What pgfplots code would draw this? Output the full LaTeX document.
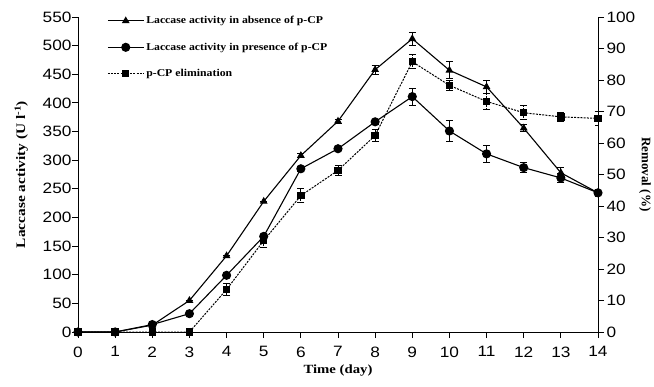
\documentclass[border=0pt]{standalone}
\usepackage{pgfplots}
\pgfplotsset{compat=1.18}
\usepackage{fontspec}
\setmainfont{Liberation Serif}
\newfontfamily\serifwide[FakeStretch=1.18]{Liberation Serif}
\newfontfamily\serifleg[FakeStretch=1.12]{Liberation Serif}
\newfontfamily\arialfont[FakeStretch=1.15]{Liberation Sans}
\begin{document}
\begin{tikzpicture}[x=1pt,y=1pt]
\pgfplotsset{
  common/.style={
    scale only axis, width=520pt, height=315pt,
    at={(0,0)}, anchor=south west,
    xmin=0, xmax=14,
    tick align=outside, major tick length=6pt,
    tick style={line width=0.9pt, black},
    axis line style={line width=0.9pt},
    /pgf/number format/assume math mode=true,
    ticklabel style={font=\arialfont\fontsize{15}{15}\selectfont},
  },
  errb/.style={error bars/.cd, y dir=both, y explicit,
    error bar style={line width=0.8pt},
    error mark options={rotate=90, mark size=3.5pt, line width=0.8pt}},
}
\begin{axis}[common,
  axis x line*=bottom, axis y line*=left,
  ymin=0, ymax=550, ytick={0,50,...,550},
  xtick={0,1,...,14},
  xticklabel style={yshift=-5pt},
  yticklabel style={xshift=3pt},
  xlabel={Time (day)}, xlabel style={font=\serifwide\bfseries\fontsize{12.5}{13}\selectfont, yshift=-1pt},
  ylabel={Laccase activity (U l\textsuperscript{-1})},
  ylabel style={font=\serifwide\bfseries\fontsize{13}{13}\selectfont, yshift=8pt},
]
\addplot[black, line width=1.1pt, mark=triangle*, mark size=3.4pt, errb]
  coordinates {
  (0,0) +- (0,0) (1,0) +- (0,0) (2,12) +- (0,0) (3,55) +- (0,0)
  (4,133) +- (0,0) (5,228) +- (0,0) (6,308) +- (0,3) (7,368) +- (0,4)
  (8,458) +- (0,8) (9,512) +- (0,11) (10,457) +- (0,15) (11,428) +- (0,12)
  (12,356) +- (0,6) (13,278) +- (0,10) (14,243) +- (0,6)};
\addplot[black, line width=1.1pt, mark=*, mark size=4pt, errb]
  coordinates {
  (0,0) +- (0,0) (1,0) +- (0,0) (2,13) +- (0,0) (3,32) +- (0,0)
  (4,99) +- (0,0) (5,167) +- (0,0) (6,285) +- (0,4) (7,320) +- (0,3)
  (8,367) +- (0,5) (9,411) +- (0,15) (10,351) +- (0,18) (11,311) +- (0,14)
  (12,287) +- (0,9) (13,269) +- (0,8) (14,243) +- (0,6)};
\end{axis}
\begin{axis}[common,
  axis x line=none, axis y line*=right,
  ymin=0, ymax=100, ytick={0,10,...,100},
  yticklabel style={xshift=-1pt},
  ylabel={Removal (\%)},
  ylabel style={font=\bfseries\fontsize{13}{13}\selectfont, rotate=180, yshift=-3pt},
  legend style={draw=none, fill=none, at={(axis cs:0.7,101.5)}, anchor=north west,
    font=\serifleg\bfseries\fontsize{10.5}{11}\selectfont, row sep=13.5pt,
    /tikz/every even column/.style={column sep=1pt}},
  legend cell align=left,
  legend image code/.code={
    \draw[#1] (0pt,0pt) -- (36pt,0pt);
    \draw[#1, solid] plot coordinates {(18pt,0pt)};},
]
\addlegendimage{black, line width=1.1pt, mark=triangle*, mark size=3.4pt}
\addlegendentry{Laccase activity in absence of p-CP}
\addlegendimage{black, line width=1.1pt, mark=*, mark size=4pt}
\addlegendentry{Laccase activity in presence of p-CP}
\addplot[black, line width=1pt, dash pattern=on 2pt off 1.2pt, mark=square*, mark size=3.2pt,
  mark options={solid}, errb]
  coordinates {
  (0,0) +- (0,0) (1,0) +- (0,0) (2,0) +- (0,0) (3,0) +- (0,0)
  (4,13.5) +- (0,1.8) (5,29) +- (0,2) (6,43.3) +- (0,2.2) (7,51.3) +- (0,1.5)
  (8,62.4) +- (0,1.8) (9,85.8) +- (0,2.2) (10,78.3) +- (0,1.5) (11,73.2) +- (0,2.5)
  (12,69.6) +- (0,2.2) (13,68.3) +- (0,1.3) (14,67.8) +- (0,2.2)};
\addlegendentry{p-CP elimination}
\end{axis}
\pgfresetboundingbox
\path (-78pt,-54pt) rectangle (576pt,332pt);
\end{tikzpicture}
\end{document}
